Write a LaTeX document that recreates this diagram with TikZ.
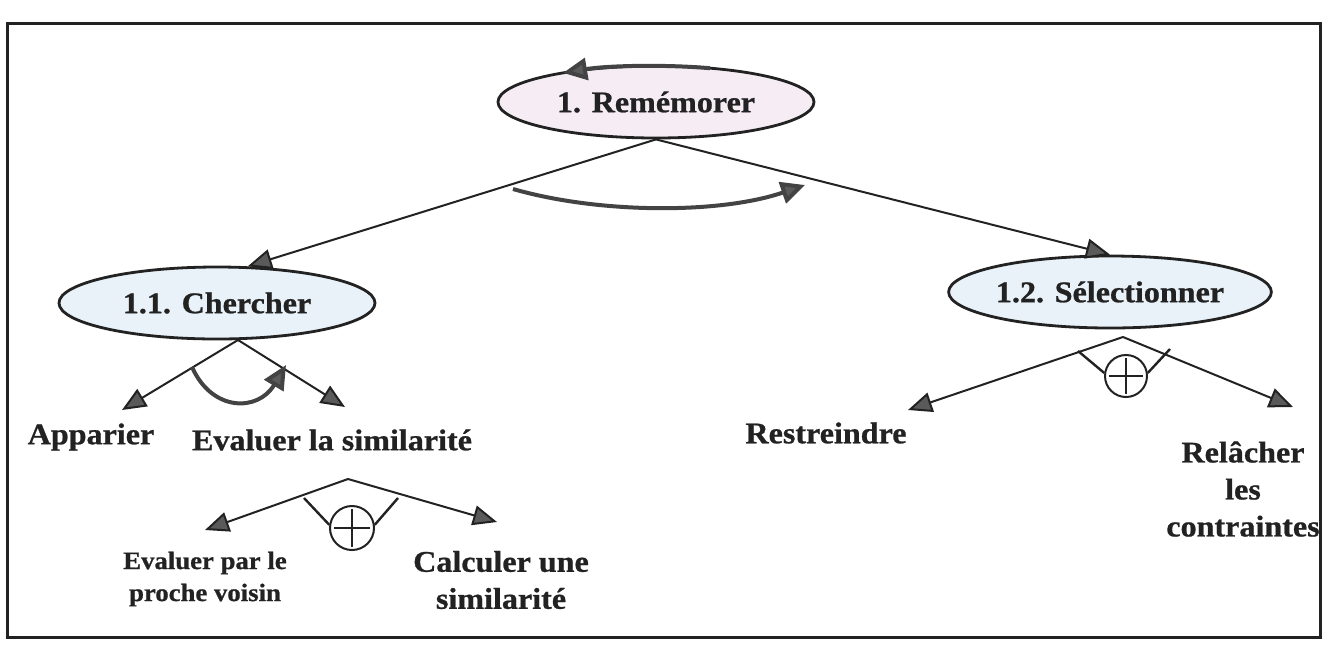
\documentclass[tikz,border=0pt]{standalone}
\usepackage{fontspec}
\usetikzlibrary{shapes.geometric,arrows.meta}
\newfontfamily\lblfont[FakeStretch=1.07,FakeBold=0.8]{Liberation Serif}
\definecolor{ink}{HTML}{222222}
\definecolor{tipgray}{HTML}{5A5A5A}
\definecolor{rosefill}{HTML}{F5ECF4}
\definecolor{bluefill}{HTML}{E8F2F8}

\begin{document}
\begin{tikzpicture}[x=1pt,y=-1pt,
  task/.style={ellipse,draw=ink,line width=2.8pt,minimum width=316pt,minimum height=72pt,
    inner sep=0pt,text=ink,font=\lblfont\bfseries\fontsize{30}{34}\selectfont},
  txt/.style={inner sep=0pt,text=ink,align=center,font=\lblfont\bfseries\fontsize{30}{37}\selectfont},
  smalltxt/.style={inner sep=0pt,text=ink,align=center,font=\lblfont\bfseries\fontsize{25}{32}\selectfont},
  link/.style={draw=ink,line width=2pt,-{Triangle[length=24pt,width=20pt,fill=tipgray]}},
  turn/.style={draw=ink!85,line width=4pt,-{Triangle[length=24pt,width=22pt,fill=tipgray]}},
  xorbar/.style={draw=ink,line width=2.4pt},
  xorring/.style={circle,draw=ink,line width=2pt,fill=white,minimum size=44pt,inner sep=0pt},
]
\useasboundingbox (0,0) rectangle (1336,649);

% outer frame
\draw[ink,line width=3pt] (7,23) rectangle (1320,637);

% task ellipses
\node[task,fill=rosefill] (rem) at (656,102) {1. Remémorer};
\node[task,fill=bluefill] (cher) at (217,303) {1.1. Chercher};
\node[task,fill=bluefill] (sel) at (1110,292) {1.2. Sélectionner};

% leaf labels
\node[txt] (app) at (91,437) {Apparier};
\node[txt] (evsim) at (332,440) {Evaluer la similarité};
\node[smalltxt] (evpv) at (205,579) {Evaluer par le\\proche voisin};
\node[txt] (calc) at (501,580) {Calculer une\\similarité};
\node[txt] (restr) at (826,433) {Restreindre};
\node[txt] (relach) at (1243,489) {Relâcher\\les\\contraintes};

% decomposition of 1. Remémorer (sequence)
\draw[link] (rem.south) -- (cher.50);
\draw[link] (rem.south) -- (sel.north);
\draw[turn] (513,189) .. controls (600,214) and (720,214) .. (805,185);
\draw[turn] ([shift={(54,-33.8)}]rem.center) arc[start angle=-70,end angle=-126,x radius=158,y radius=36];

% decomposition of 1.1. Chercher (sequence)
\coordinate (cp) at (238,340);
\coordinate (appTip) at (122,410);
\coordinate (evsimTip) at (345,407);
\draw[link] (cp) -- (appTip);
\draw[link] (cp) -- (evsimTip);
\draw[turn] (192,367) .. controls (212,412) and (258,412) .. (286,365);

% decomposition of Evaluer la similarite (alternative)
\coordinate (ep) at (348,479);
\coordinate (evpvTip) at (205,530);
\coordinate (calcTip) at (497,522);
\draw[link] (ep) -- (evpvTip);
\draw[link] (ep) -- (calcTip);
\node[xorring] (orA) at (352,528) {};
\draw[ink,line width=1.8pt] ([xshift=-18pt]orA.center) -- ([xshift=18pt]orA.center)
  ([yshift=-19pt]orA.center) -- ([yshift=19pt]orA.center);
\draw[xorbar] (304,498) -- (orA.172);
\draw[xorbar] (398,498) -- (orA.8);

% decomposition of 1.2. Selectionner (alternative)
\coordinate (sp) at (1123,337);
\coordinate (restrTip) at (908,410);
\coordinate (relachTip) at (1293,407);
\draw[link] (sp) -- (restrTip);
\draw[link] (sp) -- (relachTip);
\node[xorring,minimum size=42pt] (orB) at (1126,376) {};
\draw[ink,line width=1.8pt] ([xshift=-17pt]orB.center) -- ([xshift=17pt]orB.center)
  ([yshift=-18pt]orB.center) -- ([yshift=18pt]orB.center);
\draw[xorbar] (1078,351) -- (orB.172);
\draw[xorbar] (1170,349) -- (orB.8);
\end{tikzpicture}
\end{document}
